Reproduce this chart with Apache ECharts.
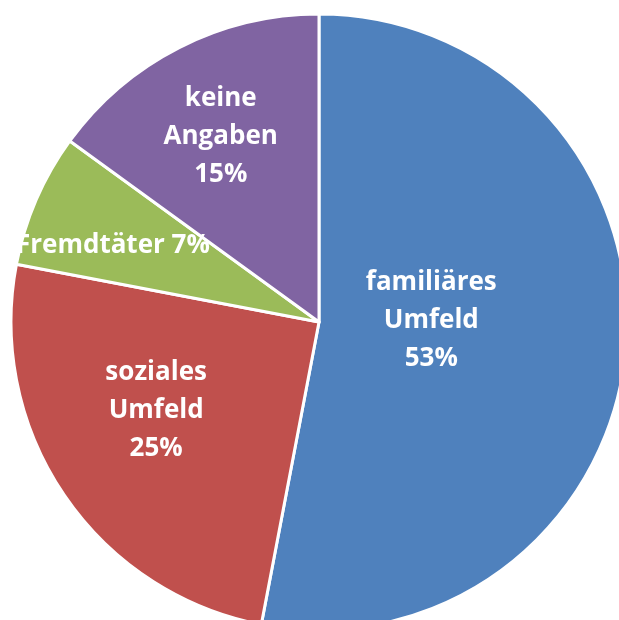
<!DOCTYPE html>
<html>
<head>
<meta charset="utf-8">
<script src="https://cdn.jsdelivr.net/npm/echarts@6/dist/echarts.min.js"></script>
<style>
html,body{margin:0;padding:0;background:#fff;}
#chart{width:619px;height:620px;}
</style>
</head>
<body>
<div id="chart"></div>
<script>
const categories = ['familiäres\nUmfeld', 'soziales\nUmfeld', 'Fremdtäter', 'keine\nAngaben'];
const values = [53, 25, 7, 15];
const colors = ['#4F81BD', '#C0504D', '#9BBB59', '#8064A2'];

const labelShift = [[-44, -16], [-33, 0], [-62, -14], [-27, -46]];

const chart = echarts.init(document.getElementById('chart'));
chart.setOption({
  animation: false,
  series: [{
    type: 'pie',
    center: [319, 322],
    radius: [0, 308],
    startAngle: 90,
    clockwise: true,
    avoidLabelOverlap: false,
    emphasis: {disabled: true},
    itemStyle: {borderColor: '#ffffff', borderWidth: 3},
    label: {
      show: true,
      position: 'inside',
      color: '#ffffff',
      fontFamily: 'Open Sans',
      fontWeight: 'bold',
      fontSize: 26,
      lineHeight: 38,
      align: 'center',
      formatter: function (p) {
        return p.name + (p.dataIndex === 2 ? ' ' : '\n') + p.value + '%';
      }
    },
    labelLine: {show: false},
    labelLayout: function (p) {
      const s = labelShift[p.dataIndex];
      return {dx: s[0], dy: s[1]};
    },
    data: categories.map((c, i) => ({name: c, value: values[i], itemStyle: {color: colors[i]}}))
  }]
});
</script>
</body>
</html>
